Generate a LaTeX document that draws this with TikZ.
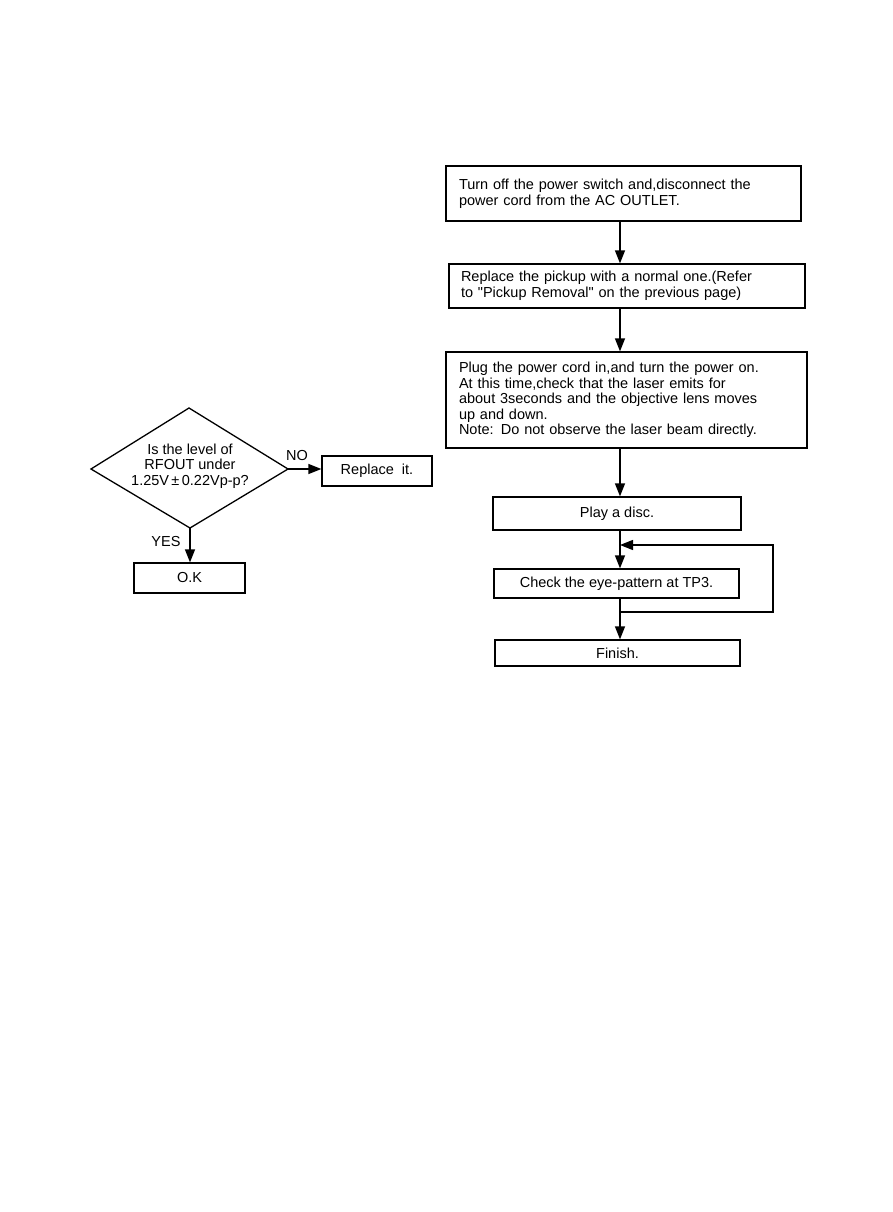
\documentclass[tikz,border=0pt]{standalone}
\usepackage{fontspec}
\setmainfont{Liberation Sans}[Ligatures=TeXOff]
\usetikzlibrary{arrows.meta}
\begin{document}
\begin{tikzpicture}[x=1pt,y=-1pt,
  every node/.style={font=\fontsize{14.5}{15.6}\selectfont},
  box/.style={draw,line width=1.3pt,inner sep=0pt,minimum height=#1},
  lbox/.style={box=#1,align=left},
  arr/.style={line width=1.3pt,-{Triangle[length=13pt,width=10pt]}},
  ln/.style={line width=1.3pt}]
\useasboundingbox[fill=white] (0,0) rectangle (893,1212);
% right column
\node[lbox=55,minimum width=355,text width=329] (b1) at (623.5,193.5)
  {Turn off the power switch and,disconnect the\\power cord from the AC OUTLET.};
\node[lbox=44,minimum width=356,text width=332] (b2) at (627,286)
  {Replace the pickup with a normal one.(Refer\\to "Pickup Removal" on the previous page)};
\node[lbox=96,minimum width=361,text width=335] (b3) at (626.5,400)
  {Plug the power cord in,and turn the power on.\\At this time,check that the laser emits for\\about 3seconds and the objective lens moves\\up and down.\\Note: Do not observe the laser beam directly.};
\node[box=33,minimum width=248] (b4) at (617,513.5) {Play a disc.};
\node[box=29,minimum width=245] (b5) at (616.5,583.5) {Check the eye-pattern at TP3.};
\node[box=26,minimum width=245] (b6) at (617.5,653) {Finish.};
\coordinate (ax) at (620,0);
\coordinate (lj) at (620,612);
\coordinate (lr) at (773,612);
\coordinate (lt) at (773,545);
\coordinate (le) at (620,545);
\draw[arr] (b1.south -| ax) -- (b2.north -| ax);
\draw[arr] (b2.south -| ax) -- (b3.north -| ax);
\draw[arr] (b3.south -| ax) -- (b4.north -| ax);
\draw[arr] (b4.south -| ax) -- (b5.north -| ax);
\draw[arr] (b5.south -| ax) -- (b6.north -| ax);
\draw[arr] (lj) -- (lr) -- (lt) -- (le);
% left decision
\coordinate (dl) at (91,469);
\coordinate (dtop) at (189,408);
\coordinate (dr) at (288,469);
\coordinate (db) at (190,528);
\draw[ln] (dl) -- (dtop) -- (dr) -- (db) -- cycle;
\node[align=center,inner sep=0pt] (dq) at (190,466)
  {Is the level of\\RFOUT under\\1.25V\,±\,0.22Vp-p?};
\node[box=30,minimum width=110] (rep) at (377,471) {Replace\ \ it.};
\node[box=30,minimum width=111] (ok) at (189.5,578) {O.K};
\draw[arr] (dr) -- (dr -| rep.west);
\draw[arr] (db) -- (ok.north -| db);
\node[inner sep=0pt] (no) at (297,456) {NO};
\node[inner sep=0pt] (yes) at (166,542) {YES};
\end{tikzpicture}
\end{document}
